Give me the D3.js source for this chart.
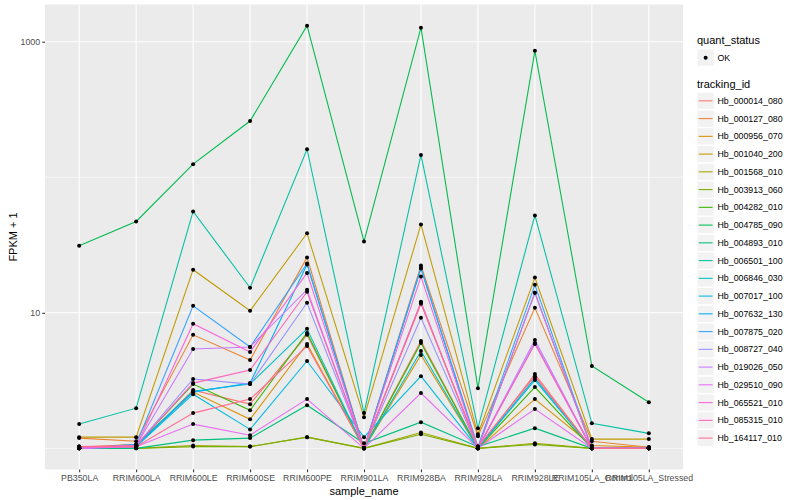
<!DOCTYPE html>
<html>
<head>
<meta charset="utf-8">
<style>
  body { margin: 0; background: #fff; }
  text { font-family: "Liberation Sans", Arial, sans-serif; }
</style>
</head>
<body>
<svg id="chart"></svg>
<script src="https://d3js.org/d3.v7.min.js"></script>
<script>
// samples on the x axis
var samples = ["PB350LA", "RRIM600LA", "RRIM600LE", "RRIM600SE", "RRIM600PE", "RRIM901LA",
               "RRIM928BA", "RRIM928LA", "RRIM928LE", "RRIM105LA_Control", "RRIM105LA_Stressed"];

var trackingIds = ["Hb_000014_080", "Hb_000127_080", "Hb_000956_070", "Hb_001040_200", "Hb_001568_010",
                   "Hb_003913_060", "Hb_004282_010", "Hb_004785_090", "Hb_004893_010", "Hb_006501_100",
                   "Hb_006846_030", "Hb_007017_100", "Hb_007632_130", "Hb_007875_020", "Hb_008727_040",
                   "Hb_019026_050", "Hb_029510_090", "Hb_065521_010", "Hb_085315_010", "Hb_164117_010"];

// FPKM per sample (same order as samples)
var hb_000014_080 = [0.03, 0.03, 1.69, 1.12, 5.88, 0, 5.2, 0, 2.53, 0, 0.02];
var hb_000127_080 = [0.19, 0.13, 5.88, 3.49, 24.6, 0, 21.3, 0.23, 9.88, 0.13, 0.02];
var hb_000956_070 = [0.02, 0.07, 1.6, 0.64, 4.89, 0, 3.89, 0, 1.31, 0.05, 0.02];
var hb_001040_200 = [0.21, 0.21, 19.8, 9.35, 37.6, 0.70, 43.9, 0.27, 17.2, 0.17, 0.17];
var hb_001568_010 = [0, 0, 0.05, 0.03, 0.21, 0, 0.31, 0, 0.09, 0, 0];
var hb_003913_060 = [0, 0, 0.03, 0.03, 0.21, 0, 0.27, 0, 0.07, 0, 0];
var hb_004282_010 = [0, 0.05, 1.98, 0.91, 6.11, 0, 4.99, 0, 1.83, 0, 0];
var hb_004785_090 = [30.3, 46.2, 124, 259, 1313, 32.6, 1269, 1.78, 856, 3.05, 1.19];
var hb_004893_010 = [0, 0, 0.15, 0.19, 1.08, 0.09, 0.56, 0.03, 0.41, 0, 0];
var hb_006501_100 = [0.51, 0.98, 55.0, 14.3, 160, 0.82, 145, 0.41, 51.3, 0.53, 0.29];
var hb_006846_030 = [0, 0.05, 1.64, 1.98, 6.62, 0, 4.23, 0, 2.3, 0, 0];
var hb_007017_100 = [0, 0.03, 1.51, 0.38, 3.41, 0.21, 2.41, 0, 2.19, 0, 0];
var hb_007632_130 = [0, 0.05, 1.6, 2.03, 21.7, 0, 20.2, 0, 13.06, 0, 0];
var hb_007875_020 = [0, 0.07, 10.26, 4.6, 22.1, 0, 20.5, 0.03, 15.1, 0, 0];
var hb_008727_040 = [0, 0.05, 2.25, 1.98, 10.86, 0, 8.18, 0, 4.99, 0, 0];
var hb_019026_050 = [0, 0.05, 4.41, 4.6, 13.8, 0, 11.06, 0, 5.31, 0, 0];
var hb_029510_090 = [0, 0.03, 0.51, 0.25, 1.31, 0, 1.56, 0, 0.95, 0, 0];
var hb_065521_010 = [0.02, 0.03, 7.31, 4.14, 18.7, 0, 17.5, 0, 13.06, 0, 0];
var hb_085315_010 = [0.03, 0.05, 2.03, 2.78, 13.3, 0, 10.86, 0, 4.89, 0, 0];
var hb_164117_010 = [0.03, 0.03, 0.82, 1.31, 4.69, 0, 10.66, 0.03, 2.41, 0, 0];

var yTicks = [10, 1000];
var yMinor = [1, 100];

// ggplot hue palette, 20 levels
var palette = ["#F8766D", "#EA8331", "#D89000", "#C09B00", "#A3A500", "#7CAE00", "#39B600", "#00BB4E",
               "#00BF7D", "#00C1A3", "#00BFC4", "#00BAE0", "#00B0F6", "#35A2FF", "#9590FF", "#C77CFF",
               "#E76BF3", "#FA62DB", "#FF62BC", "#FF6C91"];

var fpkm = [hb_000014_080, hb_000127_080, hb_000956_070, hb_001040_200, hb_001568_010,
            hb_003913_060, hb_004282_010, hb_004785_090, hb_004893_010, hb_006501_100,
            hb_006846_030, hb_007017_100, hb_007632_130, hb_007875_020, hb_008727_040,
            hb_019026_050, hb_029510_090, hb_065521_010, hb_085315_010, hb_164117_010];

var series = trackingIds.map(function(id, i) {
    return { id: id, color: palette[i],
             values: samples.map(function(s, j) { return { sample: s, v: fpkm[i][j] + 1 }; }) };
});

var W = 800, H = 500;
var panel = { left: 45, right: 683, top: 4.5, bottom: 469.5 };

var svg = d3.select("#chart").attr("width", W).attr("height", H);

// x: discrete, 0.6 step expansion like ggplot
var x = d3.scalePoint().domain(samples).range([panel.left, panel.right]).padding(0.6);

// y: log10 with 5% expansion
var allV = [];
series.forEach(function(s) { s.values.forEach(function(d) { allV.push(Math.log10(d.v)); }); });
var lo = d3.min(allV), hi = d3.max(allV), pad = (hi - lo) * 0.05;
var y = d3.scaleLog().domain([Math.pow(10, lo - pad), Math.pow(10, hi + pad)]).range([panel.bottom, panel.top]);

// panel background
svg.append("rect")
    .attr("x", panel.left).attr("y", panel.top)
    .attr("width", panel.right - panel.left).attr("height", panel.bottom - panel.top)
    .style("fill", "#EBEBEB");

// grid
svg.selectAll(".gminor").data(yMinor).enter().append("line")
    .attr("x1", panel.left).attr("x2", panel.right)
    .attr("y1", function(d) { return y(d); }).attr("y2", function(d) { return y(d); })
    .style("stroke", "#fff").style("stroke-width", 0.55);
svg.selectAll(".gmajor").data(yTicks).enter().append("line")
    .attr("x1", panel.left).attr("x2", panel.right)
    .attr("y1", function(d) { return y(d); }).attr("y2", function(d) { return y(d); })
    .style("stroke", "#fff").style("stroke-width", 1.1);
svg.selectAll(".gx").data(samples).enter().append("line")
    .attr("x1", function(d) { return x(d); }).attr("x2", function(d) { return x(d); })
    .attr("y1", panel.top).attr("y2", panel.bottom)
    .style("stroke", "#fff").style("stroke-width", 1.1);

// lines
var line = d3.line().x(function(d) { return x(d.sample); }).y(function(d) { return y(d.v); });
svg.selectAll(".series").data(series).enter().append("path")
    .attr("d", function(d) { return line(d.values); })
    .style("fill", "none")
    .style("stroke", function(d) { return d.color; })
    .style("stroke-width", 1.07);

// points
var pts = [];
series.forEach(function(s) { s.values.forEach(function(d) { pts.push(d); }); });
svg.selectAll(".pt").data(pts).enter().append("circle")
    .attr("cx", function(d) { return x(d.sample); })
    .attr("cy", function(d) { return y(d.v); })
    .attr("r", 2)
    .style("fill", "#000");

// axes
var yAxis = svg.append("g").attr("transform", "translate(" + panel.left + ",0)")
    .call(d3.axisLeft(y).tickValues(yTicks).tickFormat(d3.format("d")).tickSize(2.75).tickPadding(2.2));
var xAxis = svg.append("g").attr("transform", "translate(0," + panel.bottom + ")")
    .call(d3.axisBottom(x).tickSize(2.75).tickPadding(2.2));
[xAxis, yAxis].forEach(function(a) {
    a.select(".domain").remove();
    a.selectAll(".tick line").style("stroke", "#333").style("stroke-width", 1.07);
    a.selectAll(".tick text").style("fill", "#4D4D4D").style("font-size", "8.8px")
        .style("font-family", "Liberation Sans, Arial, sans-serif");
});

// axis titles
svg.append("text").attr("x", (panel.left + panel.right) / 2).attr("y", 495)
    .attr("text-anchor", "middle").style("font-size", "11px").text("sample_name");
svg.append("text").attr("transform", "translate(17," + ((panel.top + panel.bottom) / 2) + ") rotate(-90)")
    .attr("text-anchor", "middle").style("font-size", "11px").text("FPKM + 1");

// legend
var lx = 697;
svg.append("text").attr("x", lx).attr("y", 44).style("font-size", "11px").text("quant_status");
svg.append("rect").attr("x", lx).attr("y", 49).attr("width", 17.28).attr("height", 17.28)
    .style("fill", "#F2F2F2").style("stroke", "#fff");
svg.append("circle").attr("cx", lx + 8.64).attr("cy", 49 + 8.64).attr("r", 2).style("fill", "#000");
svg.append("text").attr("x", lx + 20.5).attr("y", 60.8).style("font-size", "8.8px").text("OK");

svg.append("text").attr("x", lx).attr("y", 88).style("font-size", "11px").text("tracking_id");
var key = svg.selectAll(".key").data(series).enter().append("g")
    .attr("transform", function(d, i) { return "translate(" + lx + "," + (92.2 + i * 17.75) + ")"; });
key.append("rect").attr("width", 17.28).attr("height", 17.28)
    .style("fill", "#F2F2F2").style("stroke", "#fff");
key.append("line").attr("x1", 1.7).attr("x2", 15.6).attr("y1", 8.64).attr("y2", 8.64)
    .style("stroke", function(d) { return d.color; }).style("stroke-width", 1.07);
key.append("text").attr("x", 20.5).attr("y", 11.8).style("font-size", "8.8px")
    .text(function(d) { return d.id; });
</script>
</body>
</html>
